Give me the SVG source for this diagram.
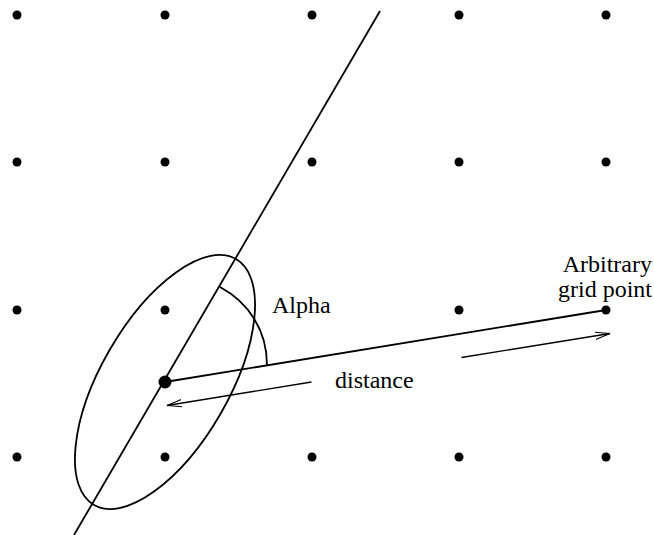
<svg xmlns="http://www.w3.org/2000/svg" width="654" height="535" viewBox="0 0 654 535">
<style>
.dot{fill:#000}
.ln{stroke:#000;stroke-width:1.8;fill:none}
.ar{stroke:#000;stroke-width:1.3;fill:none}
text{font-family:"Liberation Serif","Times New Roman",serif;font-size:24px;fill:#000}
</style>
<defs>
<marker id="open" markerWidth="16" markerHeight="10" refX="15" refY="5" orient="auto" markerUnits="userSpaceOnUse" viewBox="0 0 16 10">
<path d="M0,1.3 L15,5 L0,8.7" fill="none" stroke="#000" stroke-width="1.2"/>
</marker>
</defs>
<g id="grid">
<circle class="dot" cx="17" cy="15" r="4.5"/><circle class="dot" cx="165" cy="15" r="4.5"/><circle class="dot" cx="312" cy="15" r="4.5"/><circle class="dot" cx="459" cy="15" r="4.5"/><circle class="dot" cx="606" cy="15" r="4.5"/>
<circle class="dot" cx="17" cy="162" r="4.5"/><circle class="dot" cx="165" cy="162" r="4.5"/><circle class="dot" cx="312" cy="162" r="4.5"/><circle class="dot" cx="459" cy="162" r="4.5"/><circle class="dot" cx="606" cy="162" r="4.5"/>
<circle class="dot" cx="17" cy="310" r="4.5"/><circle class="dot" cx="165" cy="310" r="4.5"/><circle class="dot" cx="459" cy="310" r="4.5"/><circle class="dot" cx="606" cy="310" r="4.5"/>
<circle class="dot" cx="17" cy="457" r="4.5"/><circle class="dot" cx="165" cy="457" r="4.5"/><circle class="dot" cx="312" cy="457" r="4.5"/><circle class="dot" cx="459" cy="457" r="4.5"/><circle class="dot" cx="606" cy="457" r="4.5"/>
</g>
<g id="ellipse">
<ellipse class="ln" cx="165" cy="382" rx="142" ry="64" transform="rotate(-60 165 382)"/>
</g>
<g id="connectors">
<line class="ln" x1="380" y1="11" x2="74" y2="535"/>
<line class="ln" x1="165" y1="382" x2="606" y2="310"/>
<path class="ln" d="M220,287 C248,302 267,330 267,365"/>
<line class="ar" x1="311.5" y1="382" x2="167" y2="405.5" marker-end="url(#open)"/>
<line class="ar" x1="461.5" y1="357.5" x2="610" y2="333.5" marker-end="url(#open)"/>
</g>
<g id="center">
<circle class="dot" cx="165" cy="382" r="6.5"/>
</g>
<g id="labels">
<text x="272" y="313">Alpha</text>
<text x="652" y="272" text-anchor="end">Arbitrary</text>
<text x="652" y="297" text-anchor="end">grid point</text>
<text x="335" y="388">distance</text>
</g>
</svg>
